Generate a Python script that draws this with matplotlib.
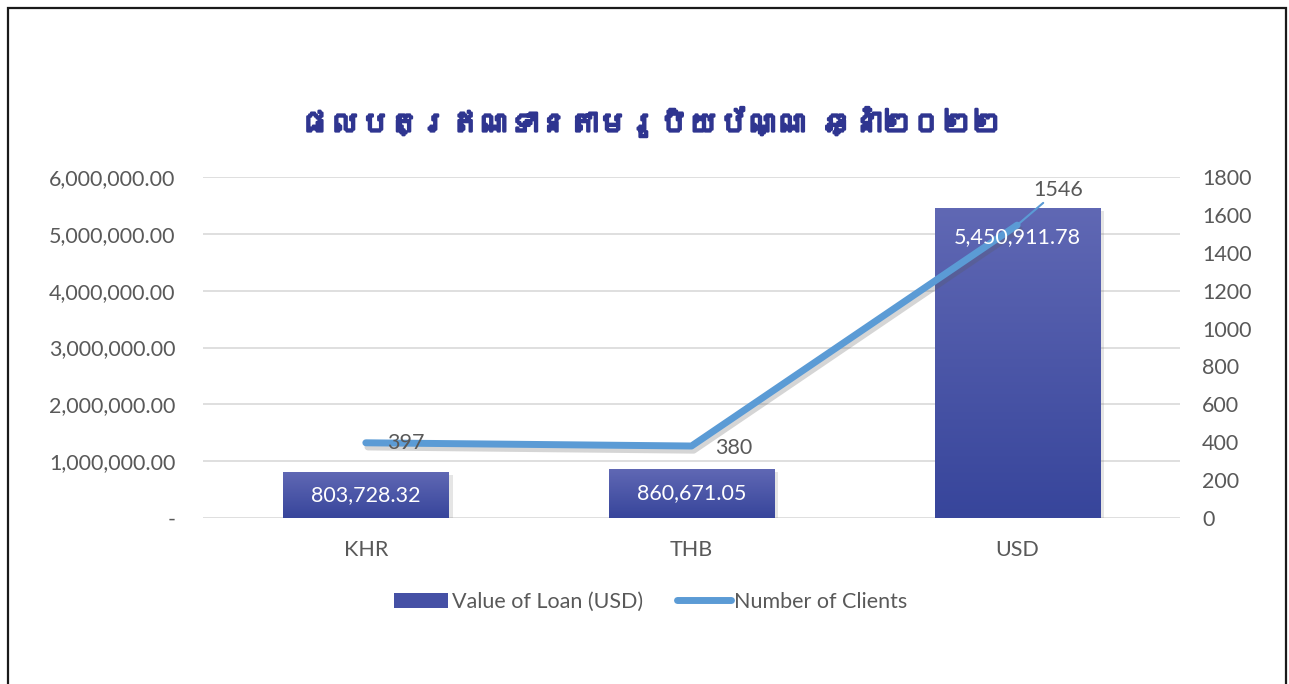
import numpy as np
import matplotlib
matplotlib.use("Agg")
import matplotlib.pyplot as plt
from matplotlib import font_manager, patheffects as pe
from matplotlib.ft2font import FT2Font
from matplotlib.patches import Rectangle
from matplotlib.lines import Line2D
from matplotlib.ticker import FuncFormatter

# ---------------- data ----------------
title = "ផលបត្រឥណទានតាមរូបិយប័ណ្ណ ឆ្នាំ២០២២"
categories = ["KHR", "THB", "USD"]
loan_values = [803728.32, 860671.05, 5450911.78]
clients = [397, 380, 1546]
left_ticks = [0, 1000000, 2000000, 3000000, 4000000, 5000000, 6000000]
right_ticks = [0, 200, 400, 600, 800, 1000, 1200, 1400, 1600, 1800]
series_names = ["Value of Loan (USD)", "Number of Clients"]

# ---------------- fonts ----------------
base_font = "Lato"
khmer_font = None
for f in font_manager.fontManager.ttflist:
    try:
        if 0x1795 in FT2Font(f.fname).get_charmap():
            khmer_font = f.name
            break
    except Exception:
        pass
title_family = [khmer_font, "DejaVu Sans"] if khmer_font else ["DejaVu Sans"]

plt.rcParams["font.family"] = [base_font, "DejaVu Sans"]
GRAY = "#595959"
LINE_C = "#5b9bd5"
TITLE_C = "#2f3590"
FS = 15.5

W, H, DPI = 1289, 684, 100
fig = plt.figure(figsize=(W / DPI, H / DPI), dpi=DPI)
fig.patch.set_facecolor("white")

# outer frame (bottom edge falls outside the image)
fig.patches.append(Rectangle((8 / W, -0.05), (1286 - 8) / W, 1.05 - 8 / H,
                             transform=fig.transFigure, fill=False,
                             edgecolor="#1a1a1a", linewidth=1.6, zorder=0))

ax = fig.add_axes([203 / W, 1 - 518 / H, (1180 - 203) / W, (518 - 177) / H])
ax2 = ax.twinx()

x = np.arange(len(categories))
bw = 0.507

# bars with gradient fill
bars = ax.bar(x, loan_values, width=bw, color="#4550a5", zorder=2,
              path_effects=[pe.SimplePatchShadow(offset=(3, -2), alpha=0.2, shadow_rgbFace="#7f7f7f"),
                            pe.Normal()])
top_c = np.array([0x60, 0x68, 0xb4]) / 255
bot_c = np.array([0x37, 0x45, 0x9b]) / 255
grad = np.linspace(0, 1, 256)[:, None]
img = (bot_c[None, None, :] * (1 - grad[..., None]) + top_c[None, None, :] * grad[..., None])
for b in bars:
    x0, y0 = b.get_x(), b.get_y()
    im = ax.imshow(img, extent=[x0, x0 + b.get_width(), y0, y0 + b.get_height()],
                   origin="lower", aspect="auto", zorder=3, interpolation="bilinear")
    im.set_clip_path(b)

ax.set_xlim(-0.5, len(categories) - 0.5)
ax.set_ylim(left_ticks[0], left_ticks[-1])
ax.set_yticks(left_ticks)
ax.yaxis.set_major_formatter(FuncFormatter(lambda v, p: "-" if v == 0 else f"{v:,.2f}"))
ax.set_xticks(x)
ax.set_xticklabels(categories)
ax.grid(axis="y", color="#d9d9d9", linewidth=1.2, zorder=0)
ax.set_axisbelow(True)
for s in ax.spines.values():
    s.set_visible(False)
ax.tick_params(axis="y", length=0, pad=20, labelsize=FS, labelcolor=GRAY)
ax.tick_params(axis="x", length=0, pad=16, labelsize=FS, labelcolor=GRAY)

# line
ax2.plot(x, clients, color=LINE_C, linewidth=5, solid_capstyle="round", zorder=4,
         path_effects=[pe.SimpleLineShadow(offset=(1.5, -3), alpha=0.25, shadow_color="#595959"),
                       pe.Normal()])
ax2.set_ylim(right_ticks[0], right_ticks[-1])
ax2.set_yticks(right_ticks)
for s in ax2.spines.values():
    s.set_visible(False)
ax2.tick_params(axis="y", length=0, pad=16, labelsize=FS, labelcolor=GRAY)

# line labels
ax2.annotate(f"{clients[0]}", (x[0], clients[0]), xytext=(40, 0), textcoords="offset pixels",
             ha="center", va="center", fontsize=FS, color=GRAY, zorder=6)
ax2.annotate(f"{clients[1]}", (x[1], clients[1]), xytext=(42, -2), textcoords="offset pixels",
             ha="center", va="center", fontsize=FS, color=GRAY, zorder=6)
ax2.annotate(f"{clients[2]}", (x[2], clients[2]), xytext=(41, 35), textcoords="offset pixels",
             ha="center", va="center", fontsize=FS, color=GRAY, zorder=6,
             arrowprops=dict(arrowstyle="-", color=LINE_C, lw=1.5, shrinkA=0, shrinkB=0))

# bar labels (drawn on top of the line)
pad_val = 0.085 * (left_ticks[-1] - left_ticks[0])
for xi, v in zip(x, loan_values):
    ly = max(v / 2, v - pad_val)
    ax2.text(xi, ly, f"{v:,.2f}", transform=ax.transData, ha="center", va="center",
             fontsize=FS, color="white", zorder=7)

# title
fig.text(0.505, 1 - 122 / H, title, ha="center", va="center", fontsize=21.5,
         fontweight="bold", color=TITLE_C, family=title_family,
         path_effects=[pe.withStroke(linewidth=1.8, foreground=TITLE_C)])

# legend
handles = [Rectangle((0, 0), 1, 1, facecolor="#4550a5", edgecolor="none"),
           Line2D([0], [0], color=LINE_C, linewidth=5, solid_capstyle="round")]
leg = fig.legend(handles, series_names, loc="center", bbox_to_anchor=(0.505, 1 - 602 / H),
                 ncol=2, frameon=False, fontsize=FS, handlelength=2.5, handleheight=0.75,
                 handletextpad=0.15, columnspacing=1.6)
for t in leg.get_texts():
    t.set_color(GRAY)

fig.savefig("out.png", dpi=DPI, facecolor="white")
